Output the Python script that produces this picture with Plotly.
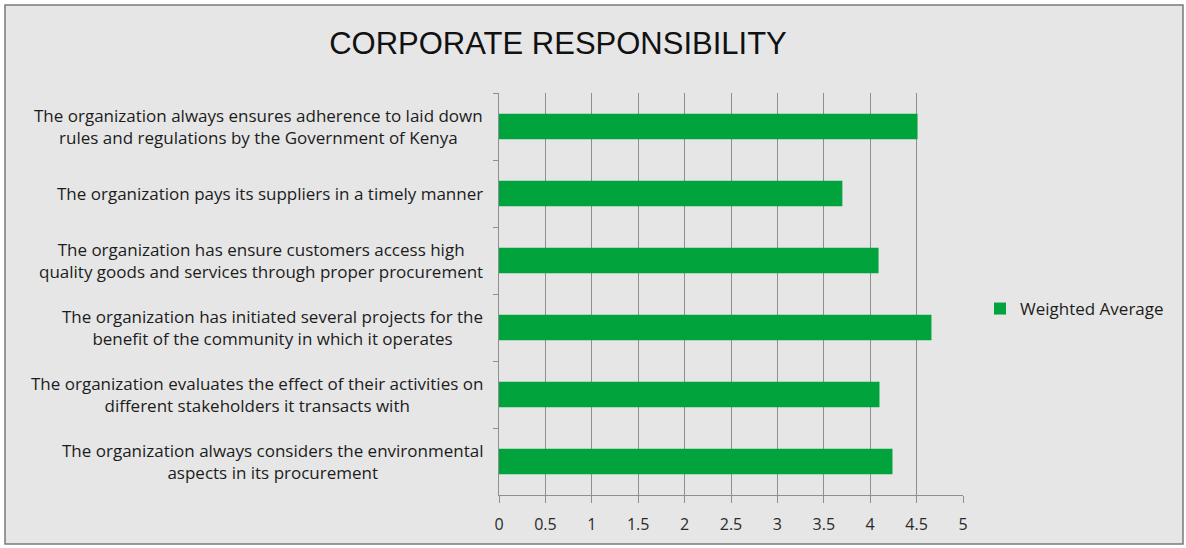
import plotly.graph_objects as go

# Survey statements (top to bottom) and their weighted average scores
statements = [
    "The organization always ensures adherence to laid down<br>rules and regulations by the Government of Kenya",
    "The organization pays its suppliers in a timely manner",
    "The organization has ensure customers access high<br>quality goods and services through proper procurement",
    "The organization has initiated several projects for the<br>benefit of the community in which it operates",
    "The organization evaluates the effect of their activities on<br>different stakeholders it transacts with",
    "The organization always considers the environmental<br>aspects in its procurement",
]
weighted_average = [4.51, 3.70, 4.09, 4.66, 4.10, 4.24]
x_ticks = [0, 0.5, 1, 1.5, 2, 2.5, 3, 3.5, 4, 4.5, 5]

W, H = 1186, 548
ML, MR, MT, MB = 499, 223, 93, 53
PW, PH = W - ML - MR, H - MT - MB

label_font = "Open Sans, Noto Sans, sans-serif"
bar_green = "#00a33c"
grid_grey = "#8f8f8f"
panel = "#e6e6e6"

fig = go.Figure()
fig.add_trace(go.Bar(
    x=weighted_average,
    y=statements,
    orientation="h",
    name="Weighted Average",
    marker=dict(color=bar_green, line=dict(width=0)),
    showlegend=True,
))

# Category labels, centred line by line, right-aligned against the axis
for s in statements:
    fig.add_annotation(
        x=-14 / PW, xref="paper", xanchor="right",
        y=s, yref="y", yanchor="middle",
        text=s, showarrow=False, align="center",
        font=dict(family=label_font, size=17, color="#1c1c1c"),
    )

# Chart-area panel with thin grey border
def px_x(px):
    return (px - ML) / PW

def px_y(py):
    return (H - MB - py) / PH

fig.add_shape(
    type="rect", xref="paper", yref="paper", layer="below",
    x0=px_x(5), x1=px_x(1183), y0=px_y(544), y1=px_y(5),
    fillcolor=panel, line=dict(color="#7a7a7a", width=1.5),
)

fig.update_layout(
    width=W, height=H,
    margin=dict(l=ML, r=MR, t=MT, b=MB),
    paper_bgcolor="white",
    plot_bgcolor="rgba(0,0,0,0)",
    bargap=0.62,
    title=dict(
        text="CORPORATE RESPONSIBILITY",
        x=558 / W, xanchor="center", xref="container",
        y=1 - 43 / H, yanchor="middle", yref="container",
        font=dict(family="Liberation Sans, Arial, sans-serif",
                  size=31, color="#111111"),
    ),
    xaxis=dict(
        range=[0, 5],
        tickvals=x_ticks,
        ticktext=[f"{v:g}" for v in x_ticks],
        showgrid=True, gridcolor=grid_grey, gridwidth=1,
        showline=True, linecolor=grid_grey, linewidth=1,
        ticks="outside", ticklen=7, tickcolor=grid_grey,
        ticklabelstandoff=8,
        tickfont=dict(family=label_font, size=16, color="#2a2a2a"),
        zeroline=False, fixedrange=True,
    ),
    yaxis=dict(
        autorange="reversed",
        showticklabels=False,
        showgrid=False,
        showline=True, linecolor=grid_grey, linewidth=1,
        ticks="outside", tickson="boundaries", ticklen=5, tickcolor=grid_grey,
        zeroline=False, fixedrange=True,
    ),
    legend=dict(
        x=px_x(980), xanchor="left",
        y=px_y(309), yanchor="middle",
        bgcolor="rgba(0,0,0,0)",
        font=dict(family=label_font, size=17, color="#1c1c1c"),
    ),
)

fig.write_html("out.html")
